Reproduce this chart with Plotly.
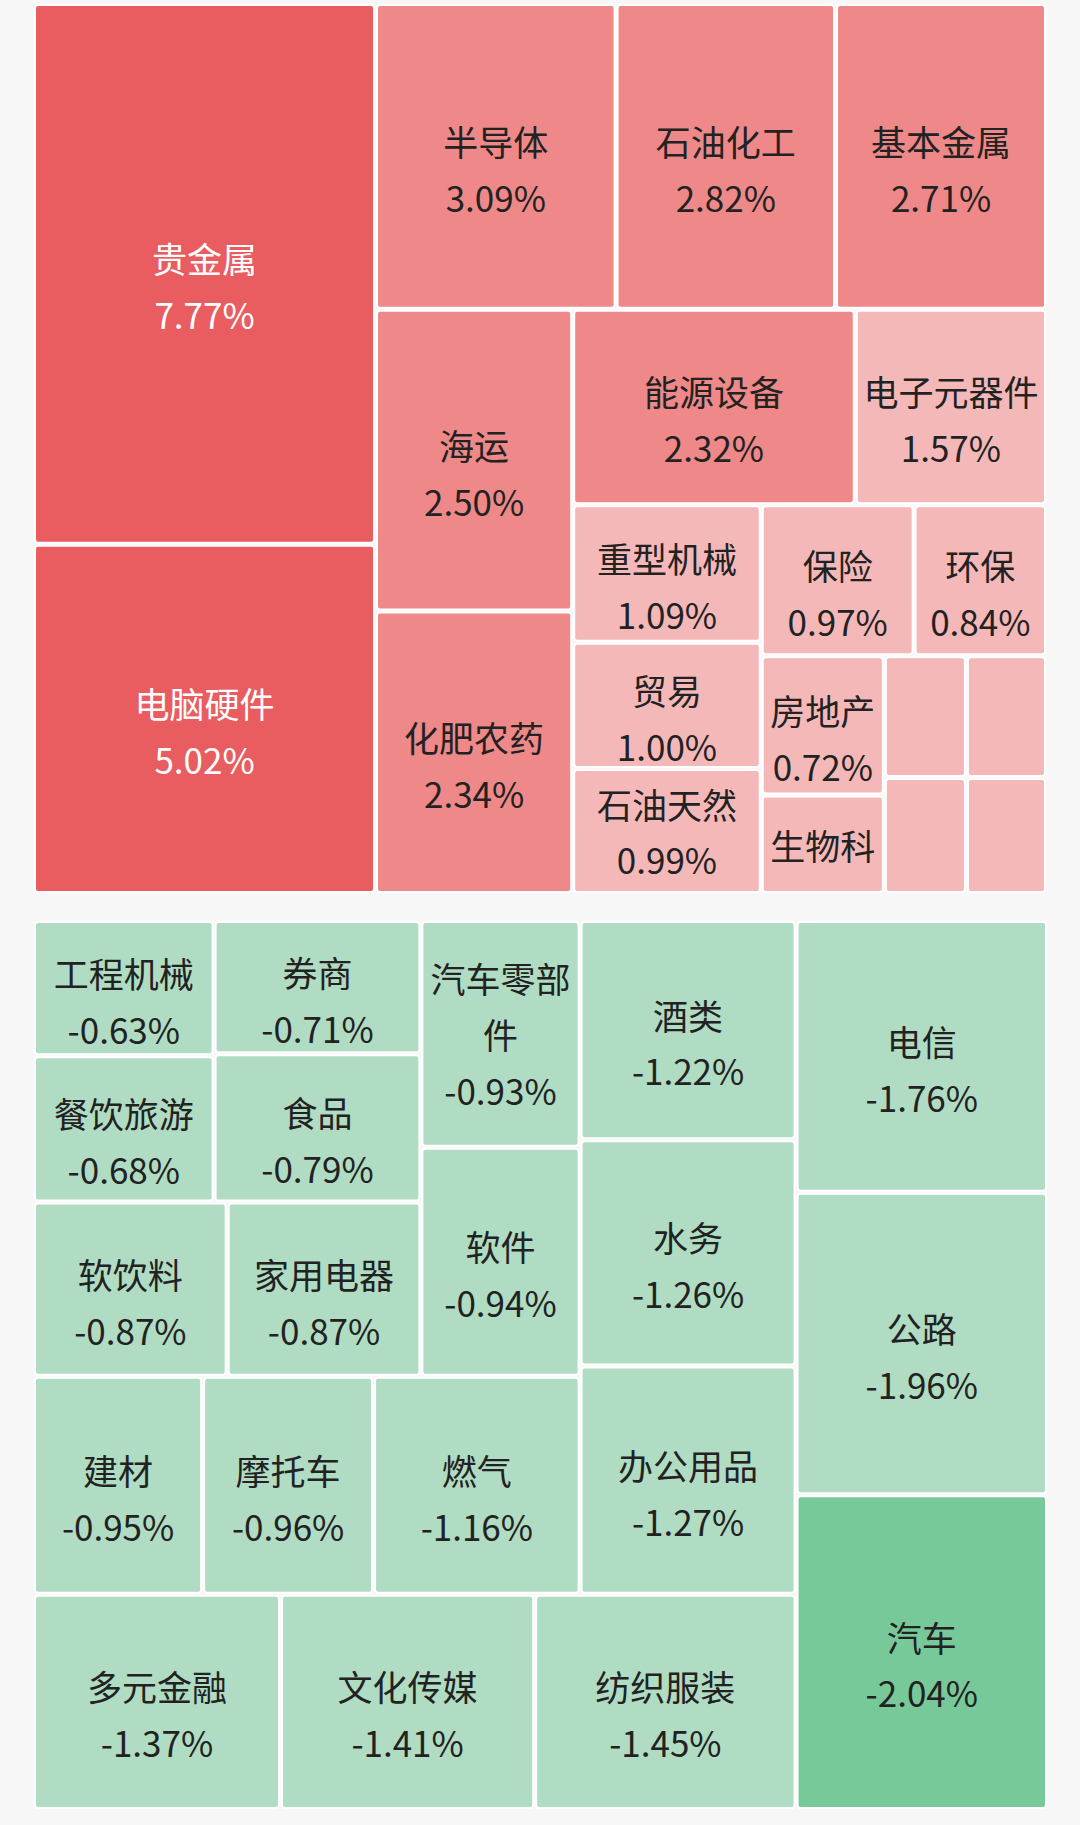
import plotly.graph_objects as go

# Gainers (top block)
up_names = ["贵金属", "电脑硬件", "半导体", "石油化工", "基本金属", "海运", "化肥农药",
            "能源设备", "电子元器件", "重型机械", "贸易", "石油天然气", "保险", "环保",
            "房地产", "生物科技", "航空", "医疗保健", "纸类", "商业百货"]
up_shown = ["贵金属", "电脑硬件", "半导体", "石油化工", "基本金属", "海运", "化肥农药",
            "能源设备", "电子元器件", "重型机械", "贸易", "石油天然", "保险", "环保",
            "房地产", "生物科", "", "", "", ""]
up_values = [7.77, 5.02, 3.09, 2.82, 2.71, 2.50, 2.34, 2.32, 1.57, 1.09, 1.00, 0.99,
             0.97, 0.84, 0.72, 0.51, 0.42, 0.41, 0.40, 0.39]
up_show_pct = [True] * 15 + [False] * 5

# Losers (bottom block)
down_names = ["汽车", "公路", "电信", "纺织服装", "文化传媒", "多元金融", "办公用品", "水务",
              "酒类", "燃气", "摩托车", "建材", "软件", "汽车零部件", "家用电器", "软饮料",
              "食品", "券商", "餐饮旅游", "工程机械"]
down_shown = ["汽车", "公路", "电信", "纺织服装", "文化传媒", "多元金融", "办公用品", "水务",
              "酒类", "燃气", "摩托车", "建材", "软件", "汽车零部<br>件", "家用电器", "软饮料",
              "食品", "券商", "餐饮旅游", "工程机械"]
down_values = [-2.04, -1.96, -1.76, -1.45, -1.41, -1.37, -1.27, -1.26, -1.22, -1.16,
               -0.96, -0.95, -0.94, -0.93, -0.87, -0.87, -0.79, -0.71, -0.68, -0.63]

# labels whose text block sits centred (no downward offset)
centred = {"石油天然气", "生物科技", "汽车零部件"}

BG = "#F7F7F7"
DARK_TEXT = "#222222"
BASE_SIZE = 43      # sets the line spacing
VIS_SIZE = 35       # visible glyph size
LEAD = '<span style="font-size:8px;color:rgba(0,0,0,0)">.</span><br>'


def up_color(v):
    if v >= 4:
        return "#E95C5F"
    if v >= 2:
        return "#EE8889"
    return "#F5B8B9"


def down_color(v):
    if abs(v) >= 2:
        return "#78C999"
    return "#B0DCC3"


def vis(s):
    return f'<span style="font-size:{VIS_SIZE}px">{s}</span>'


def make_text(name, label, value, show_pct=True):
    if not label:
        return ""
    if not show_pct:
        return vis(label)
    pct = f"{value:.2f}%"
    body = "<br>".join(vis(p) for p in label.split("<br>")) + "<br>" + vis(pct)
    return body if name in centred else LEAD + body


up_text = [make_text(n, s, v, p) for n, s, v, p in zip(up_names, up_shown, up_values, up_show_pct)]
down_text = [make_text(n, s, v) for n, s, v in zip(down_names, down_shown, down_values)]

fig = go.Figure()
fig.add_trace(go.Treemap(
    labels=up_names,
    parents=[""] * len(up_names),
    values=up_values,
    text=up_text,
    texttemplate="%{text}",
    textposition="middle center",
    textfont=dict(family="Noto Sans CJK SC", size=BASE_SIZE,
                  color=["#FFFFFF" if v >= 4 else DARK_TEXT for v in up_values]),
    marker=dict(colors=[up_color(v) for v in up_values],
                line=dict(color="#FFFFFF", width=2),
                pad=dict(t=0, l=0, r=0, b=0), cornerradius=3),
    tiling=dict(packing="squarify"),
    sort=True,
    pathbar=dict(visible=False),
    hoverinfo="skip",
    domain=dict(x=[35 / 1080, 1045 / 1080], y=[1 - 892 / 1825, 1 - 5 / 1825]),
))
fig.add_trace(go.Treemap(
    labels=down_names,
    parents=[""] * len(down_names),
    values=[abs(v) for v in down_values],
    text=down_text,
    texttemplate="%{text}",
    textposition="middle center",
    textfont=dict(family="Noto Sans CJK SC", size=BASE_SIZE, color=DARK_TEXT),
    marker=dict(colors=[down_color(v) for v in down_values],
                line=dict(color="#FFFFFF", width=2),
                pad=dict(t=0, l=0, r=0, b=0), cornerradius=3),
    tiling=dict(packing="squarify", flip="x+y"),
    sort=True,
    pathbar=dict(visible=False),
    hoverinfo="skip",
    domain=dict(x=[35 / 1080, 1046 / 1080], y=[1 - 1808 / 1825, 1 - 922 / 1825]),
))
fig.update_layout(
    width=1080, height=1825,
    margin=dict(l=0, r=0, t=0, b=0),
    paper_bgcolor=BG, plot_bgcolor=BG,
    uniformtext=dict(minsize=BASE_SIZE, mode="show"),
    showlegend=False,
)
fig.write_html("out.html")
